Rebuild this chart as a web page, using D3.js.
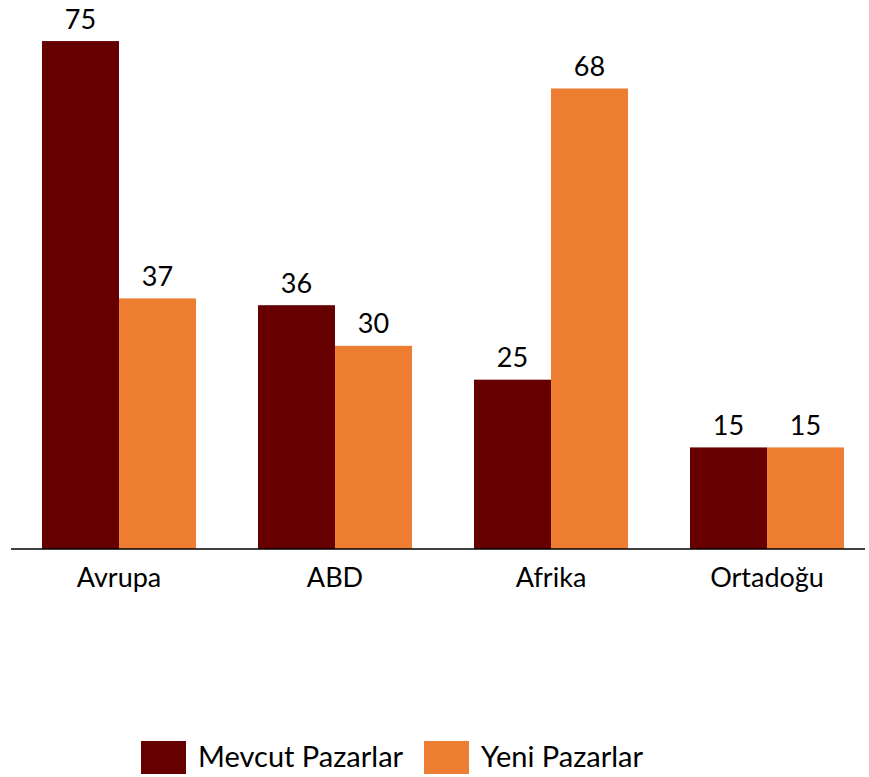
<!DOCTYPE html>
<html>
<head>
<meta charset="utf-8">
<script src="https://d3js.org/d3.v7.min.js"></script>
<style>
  body { margin: 0; background: #fff; }
  text { font-family: Lato, 'Open Sans', sans-serif; fill: #000; }
</style>
</head>
<body>
<div id="chart"></div>
<script>
  // Chart data
  const categories = ['Avrupa', 'ABD', 'Afrika', 'Ortadoğu'];
  const seriesNames = ['Mevcut Pazarlar', 'Yeni Pazarlar'];
  const mevcut = [75, 36, 25, 15];
  const yeni = [37, 30, 68, 15];
  const colors = ['#660000', '#ED7D31'];

  const width = 869, height = 777;
  const svg = d3.select('#chart').append('svg')
    .attr('width', width)
    .attr('height', height);

  const x = d3.scaleBand()
    .domain(categories)
    .range([11, 875])
    .paddingInner(0.287)
    .paddingOuter(0.1435);

  const xSub = d3.scaleBand()
    .domain(seriesNames)
    .range([0, x.bandwidth()]);

  const y = d3.scaleLinear()
    .domain([0, 80])
    .range([549, 7.2]);

  const rows = categories.map((c, i) => ({
    cat: c,
    vals: [
      {name: seriesNames[0], v: mevcut[i], color: colors[0]},
      {name: seriesNames[1], v: yeni[i], color: colors[1]}
    ]
  }));

  const groups = svg.selectAll('g.grp')
    .data(rows)
    .enter()
    .append('g')
    .attr('class', 'grp')
    .attr('transform', d => `translate(${x(d.cat)},0)`);

  groups.selectAll('rect')
    .data(d => d.vals)
    .enter()
    .append('rect')
    .attr('x', d => xSub(d.name))
    .attr('y', d => y(d.v))
    .attr('width', xSub.bandwidth())
    .attr('height', d => y(0) - y(d.v))
    .attr('fill', d => d.color);

  groups.selectAll('text.val')
    .data(d => d.vals)
    .enter()
    .append('text')
    .attr('class', 'val')
    .attr('x', d => xSub(d.name) + xSub.bandwidth() / 2)
    .attr('y', d => y(d.v) - 12.5)
    .attr('text-anchor', 'middle')
    .style('font-size', '27px')
    .text(d => d.v);

  // x axis
  const xAxis = svg.append('g')
    .attr('transform', `translate(0,${y(0)})`)
    .call(d3.axisBottom(x).tickSize(0));
  xAxis.select('.domain').remove();
  xAxis.selectAll('text')
    .attr('y', 37.7)
    .attr('dy', 0)
    .style('font-size', '27px')
    .style('font-family', "Lato, 'Open Sans', sans-serif")
    .attr('fill', '#000');
  svg.append('line')
    .attr('x1', 11).attr('x2', 865)
    .attr('y1', y(0)).attr('y2', y(0))
    .attr('stroke', '#000')
    .attr('stroke-width', 1.5);

  // legend
  const legendX = [141, 424];
  const legend = svg.selectAll('g.leg')
    .data(seriesNames)
    .enter()
    .append('g')
    .attr('class', 'leg')
    .attr('transform', (d, i) => `translate(${legendX[i]},741)`);
  legend.append('rect')
    .attr('width', 45)
    .attr('height', 33)
    .attr('fill', (d, i) => colors[i]);
  legend.append('text')
    .attr('x', 57)
    .attr('y', 26.3)
    .style('font-size', '29px')
    .text(d => d);
</script>
</body>
</html>
